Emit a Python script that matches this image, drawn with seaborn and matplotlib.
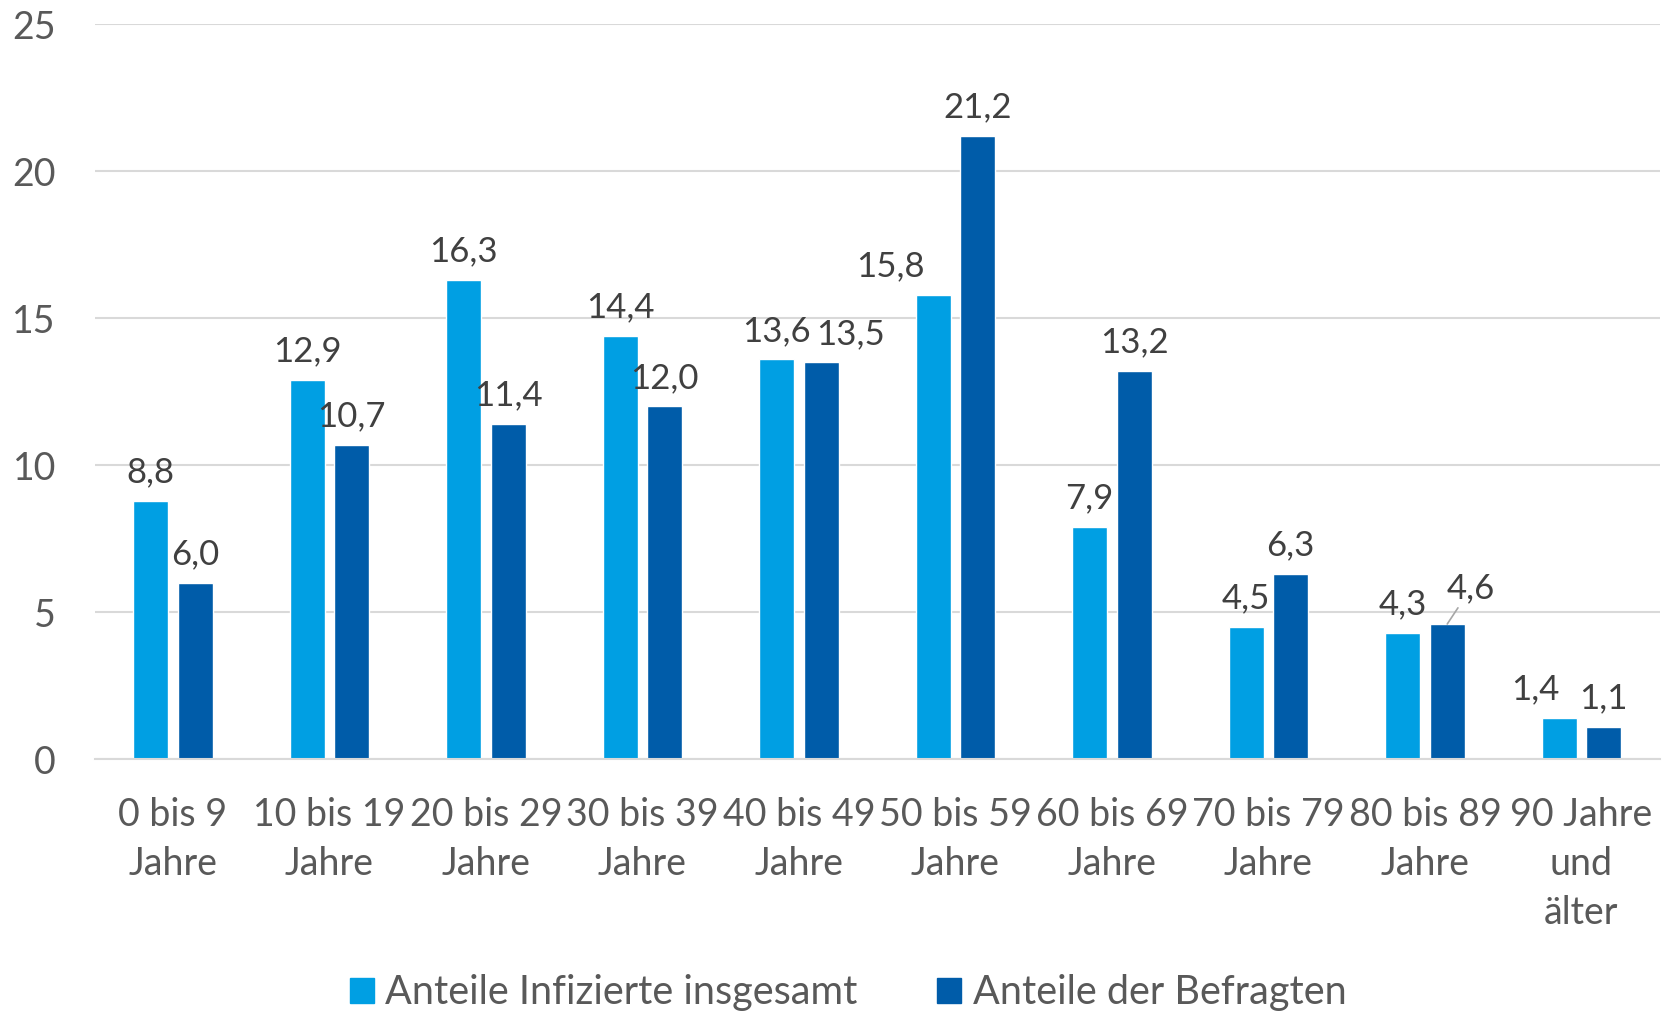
import pandas as pd
import numpy as np
import matplotlib.pyplot as plt
import seaborn as sns

# Altersgruppen und Anteile (in %)
categories = ['0 bis 9\nJahre', '10 bis 19\nJahre', '20 bis 29\nJahre', '30 bis 39\nJahre',
              '40 bis 49\nJahre', '50 bis 59\nJahre', '60 bis 69\nJahre', '70 bis 79\nJahre',
              '80 bis 89\nJahre', '90 Jahre\nund\nälter']
infizierte = [8.8, 12.9, 16.3, 14.4, 13.6, 15.8, 7.9, 4.5, 4.3, 1.4]
befragte = [6.0, 10.7, 11.4, 12.0, 13.5, 21.2, 13.2, 6.3, 4.6, 1.1]
series_names = ['Anteile Infizierte insgesamt', 'Anteile der Befragten']

df = pd.DataFrame({
    'Gruppe': categories * 2,
    'Anteil': infizierte + befragte,
    'Serie': [series_names[0]] * len(categories) + [series_names[1]] * len(categories),
})

sns.set_theme(style='white')
plt.rcParams['font.family'] = ['Lato', 'DejaVu Sans']

text_grey = '#595959'
label_grey = '#404040'
palette = {series_names[0]: '#009FE3', series_names[1]: '#005CA9'}

fig, ax = plt.subplots(figsize=(16.63, 10.15), dpi=100)
fig.subplots_adjust(left=0.057, right=0.998, top=0.976, bottom=0.252)

sns.barplot(data=df, x='Gruppe', y='Anteil', hue='Serie', palette=palette,
            width=0.57, gap=0.21, ax=ax, saturation=1, legend=False)

ax.set_ylim(0, 25)
ax.set_xlim(-0.5, len(categories) - 0.5)
ax.set_yticks([0, 5, 10, 15, 20, 25])
ax.yaxis.grid(True, color='#D9D9D9', linewidth=1.5)
ax.set_axisbelow(True)
for s in ['top', 'right', 'left']:
    ax.spines[s].set_visible(False)
ax.spines['bottom'].set_color('#D9D9D9')
ax.spines['bottom'].set_linewidth(1.5)
ax.set_xlabel('')
ax.set_ylabel('')
ax.tick_params(axis='y', labelsize=27, labelcolor=text_grey, length=0, pad=28)
ax.tick_params(axis='x', labelsize=27, labelcolor=text_grey, length=0, pad=27)
for t in ax.get_xticklabels():
    t.set_linespacing(1.45)

# Datenbeschriftungen (einige seitlich versetzt wie im Original)
values = [infizierte, befragte]
shift = {(0, 5): -31, (1, 4): 21, (0, 9): -17}
for i, cont in enumerate(ax.containers):
    for j, bar in enumerate(cont.patches):
        v = values[i][j]
        txt = f'{v:.1f}'.replace('.', ',')
        x = bar.get_x() + bar.get_width() / 2
        if i == 1 and j == 8:
            ax.annotate(txt, xy=(x, v), xytext=(17, 14), textcoords='offset points',
                        ha='center', va='bottom', fontsize=25, color=label_grey,
                        arrowprops=dict(arrowstyle='-', color='#A6A6A6', lw=1.2,
                                        shrinkA=0, shrinkB=0, relpos=(0.3, 0.05)))
        else:
            ax.annotate(txt, xy=(x, v), xytext=(shift.get((i, j), 0), 9),
                        textcoords='offset points', ha='center', va='bottom',
                        fontsize=25, color=label_grey)

handles = [plt.Rectangle((0, 0), 1, 1, color=palette[n]) for n in series_names]
fig.legend(handles, series_names, loc='center', bbox_to_anchor=(0.51, 0.022), ncol=2,
           frameon=False, fontsize=28.5, labelcolor=text_grey, handlelength=0.6,
           handleheight=0.6, handletextpad=0.3, columnspacing=2.0)

plt.savefig('out.png', dpi=100)
